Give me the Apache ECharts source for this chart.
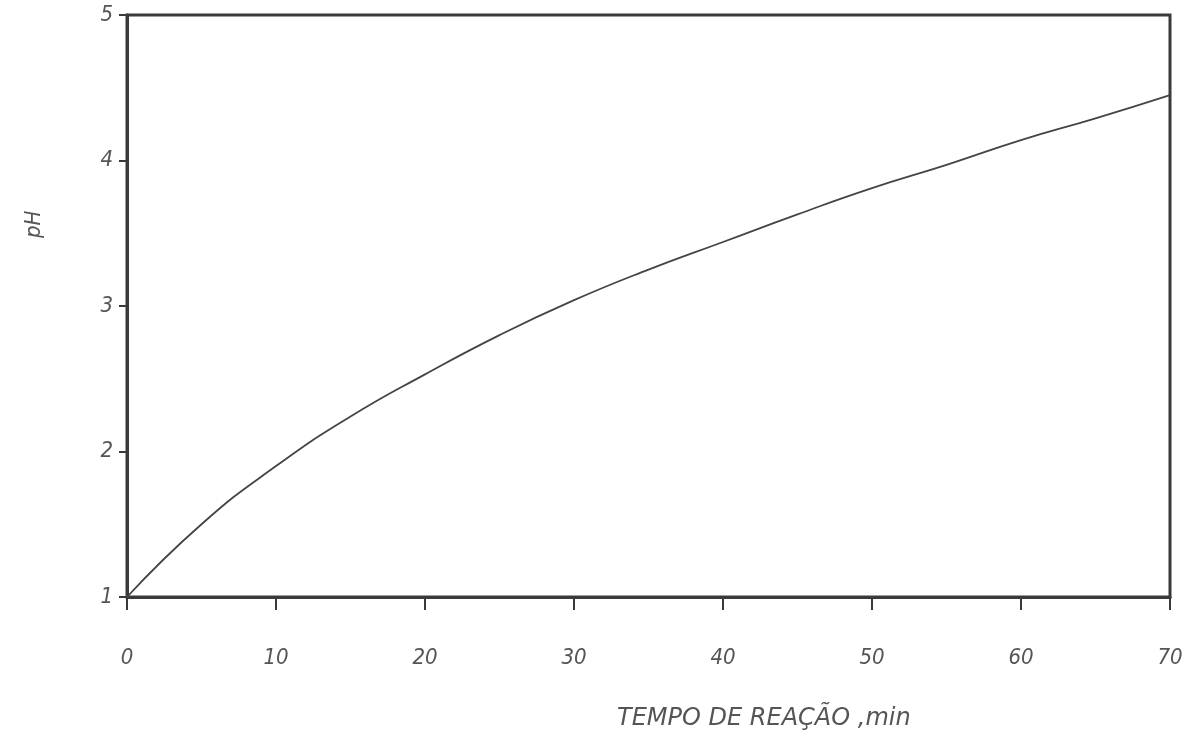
<!DOCTYPE html>
<html>
<head>
<meta charset="utf-8">
<script src="https://cdn.jsdelivr.net/npm/echarts@6/dist/echarts.min.js"></script>
<style>
html,body{margin:0;padding:0;background:#fff;}
#chart{width:1204px;height:743px;}
</style>
</head>
<body>
<div id="chart"></div>
<script>
// Data
const timeMin = [0, 5, 10, 15, 20, 25, 30, 35, 40, 45, 50, 55, 60, 65, 70];
const phValues = [1.00, 1.50, 1.90, 2.24, 2.53, 2.80, 3.04, 3.25, 3.44, 3.63, 3.81, 3.97, 4.14, 4.29, 4.45];
const xTicks = [0, 10, 20, 30, 40, 50, 60, 70];
const yTicks = [1, 2, 3, 4, 5];
const xAxisTitle = 'TEMPO DE REAÇÃO ,min';
const yAxisTitle = 'pH';

const handFont = '"Liberation Sans Narrow", "DejaVu Sans Condensed", "Liberation Sans", sans-serif';
const ink = '#3a3a3a';

const chart = echarts.init(document.getElementById('chart'), null, {renderer: 'canvas'});
chart.setOption({
  animation: false,
  backgroundColor: '#ffffff',
  title: {
    text: xAxisTitle,
    left: 612,
    top: 702,
    textStyle: {
      fontFamily: '"DejaVu Sans", sans-serif',
      fontStyle: 'italic',
      fontWeight: 'normal',
      fontSize: 24,
      color: '#555'
    }
  },
  graphic: [{
    type: 'text',
    x: 23,
    y: 238,
    rotation: Math.PI / 2,
    style: {
      text: yAxisTitle,
      font: 'italic 22px ' + handFont,
      fill: '#555'
    }
  }],
  grid: {
    left: 127,
    right: 34,
    top: 15,
    bottom: 146,
    show: true,
    borderColor: ink,
    borderWidth: 3
  },
  xAxis: {
    type: 'value',
    min: 0,
    max: 70,
    interval: 10,
    axisLine: {show: true, lineStyle: {color: ink, width: 3}},
    axisTick: {show: true, length: 13, lineStyle: {color: ink, width: 2}},
    splitLine: {show: false},
    axisLabel: {
      margin: 50,
      fontFamily: handFont,
      fontStyle: 'italic',
      fontSize: 22,
      color: '#555',
      formatter: v => (xTicks.indexOf(v) >= 0 ? String(v) : '')
    }
  },
  yAxis: {
    type: 'value',
    min: 1,
    max: 5,
    interval: 1,
    axisLine: {show: true, lineStyle: {color: ink, width: 3}},
    axisTick: {show: true, length: 8, lineStyle: {color: ink, width: 2}},
    splitLine: {show: false},
    axisLabel: {
      margin: 14,
      fontFamily: handFont,
      fontStyle: 'italic',
      fontSize: 22,
      color: '#555',
      formatter: v => (yTicks.indexOf(v) >= 0 ? String(v) : '')
    }
  },
  series: [{
    type: 'line',
    data: timeMin.map((t, i) => [t, phValues[i]]),
    smooth: 0.5,
    showSymbol: false,
    lineStyle: {color: '#444', width: 1.8}
  }]
});
</script>
</body>
</html>
